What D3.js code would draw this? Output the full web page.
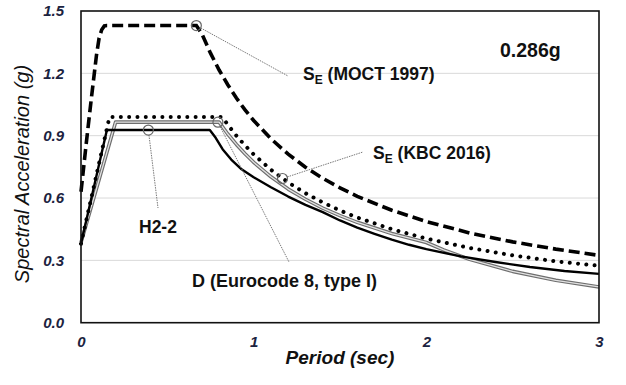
<!DOCTYPE html>
<html>
<head>
<meta charset="utf-8">
<script src="https://cdn.jsdelivr.net/npm/d3@7/dist/d3.min.js"></script>
<style>
  html, body { margin: 0; padding: 0; background: #fff; }
  svg { display: block; font-family: "Liberation Sans", Arial, sans-serif; }
</style>
</head>
<body>
<svg id="chart" width="626" height="385"></svg>
<script>
// Response spectra, 0.286g: period (s) vs spectral acceleration (g)
const periodsMoct = [0, 0.03, 0.06, 0.09, 0.105, 0.12, 0.135, 0.15, 0.668, 0.7, 0.75, 0.8, 0.85, 0.9, 0.95, 1.0, 1.1, 1.2, 1.3, 1.4, 1.5, 1.6, 1.8, 2.0, 2.25, 2.5, 2.75, 3.0];
const saMoct      = [0.63, 0.86, 1.08, 1.29, 1.37, 1.41, 1.428, 1.43, 1.43, 1.39, 1.297, 1.216, 1.145, 1.081, 1.024, 0.973, 0.885, 0.811, 0.748, 0.695, 0.649, 0.608, 0.541, 0.487, 0.432, 0.389, 0.354, 0.324];

const periodsKbc = [0, 0.165, 0.818, 0.85, 0.9, 0.95, 1.0, 1.1, 1.2, 1.3, 1.4, 1.5, 1.6, 1.8, 2.0, 2.25, 2.5, 2.75, 3.0];
const saKbc      = [0.38, 0.99, 0.99, 0.953, 0.90, 0.853, 0.81, 0.736, 0.675, 0.623, 0.579, 0.54, 0.506, 0.45, 0.405, 0.36, 0.324, 0.295, 0.274];

const periodsEc8 = [0, 0.2, 0.8, 0.85, 0.9, 0.95, 1.0, 1.1, 1.2, 1.3, 1.4, 1.5, 1.6, 1.8, 2.0, 2.1, 2.25, 2.5, 2.75, 3.0];
const saEc8      = [0.386, 0.965, 0.965, 0.908, 0.858, 0.813, 0.772, 0.702, 0.643, 0.594, 0.551, 0.515, 0.483, 0.429, 0.386, 0.350, 0.305, 0.247, 0.204, 0.172];

const periodsH22 = [0, 0.15, 0.746, 0.78, 0.82, 0.87, 0.93, 1.0, 1.1, 1.2, 1.3, 1.4, 1.5, 1.6, 1.7, 1.8, 1.9, 2.0, 2.2, 2.4, 2.6, 2.8, 3.0];
const saH22      = [0.38, 0.927, 0.927, 0.89, 0.835, 0.785, 0.738, 0.70, 0.652, 0.607, 0.567, 0.532, 0.492, 0.458, 0.428, 0.40, 0.375, 0.354, 0.319, 0.292, 0.268, 0.249, 0.235];

const xTicks = [0, 1, 2, 3];
const yTicks = [0, 0.3, 0.6, 0.9, 1.2, 1.5];

const svg = d3.select("#chart");
const plotLeft = 81, plotRight = 599, plotTop = 11, plotBottom = 322.7;

const x = d3.scaleLinear().domain([0, 3]).range([plotLeft, plotRight]);
const y = d3.scaleLinear().domain([0, 1.5]).range([plotBottom, plotTop]);

const tickColor = "#1c2340";

// horizontal gridlines
svg.append("g")
  .selectAll("line")
  .data(yTicks.filter(d => d > 0 && d < 1.5))
  .join("line")
  .attr("x1", plotLeft).attr("x2", plotRight)
  .attr("y1", d => y(d)).attr("y2", d => y(d))
  .attr("stroke", "#d9d9d9").attr("stroke-width", 1);

// axes
const yAxis = svg.append("g")
  .attr("transform", `translate(${plotLeft},0)`)
  .call(d3.axisLeft(y).tickValues(yTicks).tickSize(0).tickPadding(17).tickFormat(d3.format(".1f")));
const xAxis = svg.append("g")
  .attr("transform", `translate(0,${plotBottom})`)
  .call(d3.axisBottom(x).tickValues(xTicks).tickSize(0).tickPadding(14).tickFormat(d3.format("d")));
[yAxis, xAxis].forEach(g => {
  g.select(".domain").remove();
  g.selectAll("text")
    .attr("fill", tickColor)
    .style("font-size", "15px")
    .style("font-weight", "bold")
    .style("font-style", "italic");
});

const toPts = (ts, vs) => ts.map((t, i) => [t, vs[i]]);
const line = d3.line().x(d => x(d[0])).y(d => y(d[1])).curve(d3.curveLinear);

const plot = svg.append("g");

// Eurocode 8: double line (dark outer, light core)
plot.append("path").datum(toPts(periodsEc8, saEc8)).attr("d", line)
  .attr("fill", "none").attr("stroke", "#6e6e6e").attr("stroke-width", 3.6).attr("stroke-linejoin", "round");
plot.append("path").datum(toPts(periodsEc8, saEc8)).attr("d", line)
  .attr("fill", "none").attr("stroke", "#e2e2e2").attr("stroke-width", 1.3).attr("stroke-linejoin", "round");

// H2-2: solid black
plot.append("path").datum(toPts(periodsH22, saH22)).attr("d", line)
  .attr("fill", "none").attr("stroke", "#000").attr("stroke-width", 2.4).attr("stroke-linejoin", "round");

// KBC 2016: round dots
plot.append("path").datum(toPts(periodsKbc, saKbc)).attr("d", line)
  .attr("fill", "none").attr("stroke", "#000").attr("stroke-width", 4)
  .attr("stroke-linecap", "round").attr("stroke-dasharray", "0.01 8.3");

// MOCT 1997: heavy dashes
plot.append("path").datum(toPts(periodsMoct, saMoct)).attr("d", line)
  .attr("fill", "none").attr("stroke", "#000").attr("stroke-width", 3.6)
  .attr("stroke-dasharray", "11 5");

// plot frame
svg.append("rect")
  .attr("x", plotLeft).attr("y", plotTop)
  .attr("width", plotRight - plotLeft).attr("height", plotBottom - plotTop)
  .attr("fill", "none").attr("stroke", "#111").attr("stroke-width", 1.6);

// callouts: circle on the curve, dotted leader to label
const callouts = [
  { t: 0.668, v: 1.43,  lx: 288, ly: 76 },
  { t: 1.167, v: 0.694, lx: 363, ly: 152 },
  { t: 0.793, v: 0.965, lx: 289, ly: 262 },
  { t: 0.39,  v: 0.927, lx: 158, ly: 208 }
];
const r = 5;
callouts.forEach(c => {
  const cx = x(c.t), cy = y(c.v);
  const dx = c.lx - cx, dy = c.ly - cy, len = Math.hypot(dx, dy);
  svg.append("line")
    .attr("x1", cx + dx / len * r).attr("y1", cy + dy / len * r)
    .attr("x2", c.lx).attr("y2", c.ly)
    .attr("stroke", "#7a7a7a").attr("stroke-width", 1).attr("stroke-dasharray", "1.5 1");
  svg.append("circle")
    .attr("cx", cx).attr("cy", cy).attr("r", r)
    .attr("fill", "none").attr("stroke", "#666").attr("stroke-width", 1.2);
});

// labels
function seLabel(xp, yp, rest) {
  const t = svg.append("text").attr("x", xp).attr("y", yp)
    .style("font-size", "17.5px").style("font-weight", "bold").attr("fill", "#111");
  t.append("tspan").text("S");
  t.append("tspan").attr("dy", 4).style("font-size", "12px").text("E");
  t.append("tspan").attr("dy", -4).text(" " + rest);
}
seLabel(303, 80, "(MOCT 1997)");
seLabel(373, 159, "(KBC 2016)");

svg.append("text").attr("x", 139).attr("y", 233)
  .style("font-size", "17.5px").style("font-weight", "bold").attr("fill", "#111")
  .text("H2-2");
svg.append("text").attr("x", 192).attr("y", 287)
  .style("font-size", "18px").style("font-weight", "bold").attr("fill", "#111")
  .text("D (Eurocode 8, type I)");
svg.append("text").attr("x", 500).attr("y", 57)
  .style("font-size", "19.5px").style("font-weight", "bold").attr("fill", "#111")
  .text("0.286g");

// axis titles
svg.append("text")
  .attr("transform", "translate(29,174) rotate(-90)")
  .attr("text-anchor", "middle")
  .style("font-size", "20px").style("font-style", "italic").attr("fill", "#111")
  .text("Spectral Acceleration (g)");
svg.append("text")
  .attr("x", 340).attr("y", 364)
  .attr("text-anchor", "middle")
  .style("font-size", "19px").style("font-weight", "bold").style("font-style", "italic").attr("fill", "#111")
  .text("Period (sec)");
</script>
</body>
</html>
